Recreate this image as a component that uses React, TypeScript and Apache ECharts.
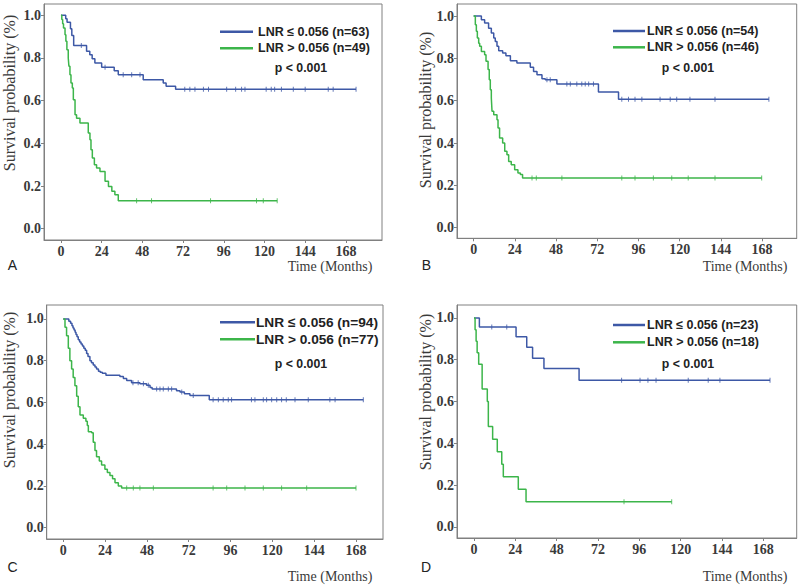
import React, { useEffect, useRef } from "react";
import * as echarts from "echarts";

const BLUE = "#3d58a6";
const GREEN = "#3cb54a";

const xTickValues = [0, 24, 48, 72, 96, 120, 144, 168];
const yTickValues = [0, 0.2, 0.4, 0.6, 0.8, 1.0];

const lowLabel = "LNR \u2264 0.056";
const highLabel = "LNR > 0.056";
const pText = "p < 0.001";
const timeTitle = "Time (Months)";
const survTitle = "Survival probability (%)";

// ---- Panel A ----
const aLowN = 63;
const aLowTimes = [0, 2.8, 3.6, 5.6, 6.4, 7.5, 15.1, 17, 18.4, 20, 24, 31.4, 33.8, 48.5, 60.3, 62, 67.6];
const aLowSurv = [1, 0.984, 0.968, 0.937, 0.905, 0.859, 0.831, 0.815, 0.797, 0.776, 0.756, 0.74, 0.722, 0.698, 0.683, 0.668, 0.653];
const aLowCensor = [12, 26, 36.7, 41.7, 46.6, 73, 76, 79, 84, 87, 97.7, 103, 106.5, 108.5, 121, 124, 126, 130, 137, 144, 157.6, 160.5];
const aLowEnd = 174;
const aHighN = 49;
const aHighTimes = [0, 0.5, 1, 1.5, 2.4, 2.9, 3.5, 4.3, 4.7, 5.3, 5.9, 6.7, 7.3, 8.3, 9.2, 11.2, 16.1, 17.1, 17.7, 18.5, 19.7, 21, 23, 26, 28, 30, 31.8, 33.8];
const aHighSurv = [1, 0.98, 0.96, 0.94, 0.909, 0.878, 0.839, 0.8, 0.761, 0.722, 0.683, 0.659, 0.604, 0.534, 0.518, 0.495, 0.448, 0.417, 0.37, 0.331, 0.3, 0.284, 0.268, 0.222, 0.198, 0.175, 0.159, 0.131];
const aHighCensor = [44.6, 53.4, 88.2, 115.3, 119.3];
const aHighEnd = 127.5;

// ---- Panel B ----
const bLowN = 54;
const bLowTimes = [0, 4.5, 6.4, 8.7, 10.3, 11.7, 12.6, 13.6, 14.6, 16.9, 18.8, 21.4, 25.2, 33, 34.9, 36.9, 39.8, 41.7, 48.5, 72.7, 84.4];
const bLowSurv = [1, 0.983, 0.967, 0.943, 0.92, 0.896, 0.88, 0.857, 0.836, 0.825, 0.813, 0.789, 0.778, 0.758, 0.738, 0.723, 0.704, 0.699, 0.679, 0.641, 0.607];
const bLowCensor = [42.7, 44.6, 54.3, 56.3, 60.1, 63, 65, 67, 69.8, 86.3, 90.2, 94, 98, 108.6, 114.5, 118.3, 126, 140.6];
const bLowEnd = 172;
const bHighN = 46;
const bHighTimes = [0, 0.98, 1.57, 2.15, 2.93, 3.5, 4.5, 6.4, 7.2, 8.4, 9.1, 9.7, 10.3, 10.7, 11.7, 13.6, 14.2, 15.1, 16.9, 18.1, 19.4, 20.4, 21.9, 23.9, 25.8, 27.2, 28.5];
const bHighSurv = [1, 0.959, 0.928, 0.896, 0.872, 0.857, 0.833, 0.817, 0.786, 0.747, 0.699, 0.652, 0.613, 0.55, 0.534, 0.51, 0.471, 0.424, 0.4, 0.361, 0.345, 0.313, 0.298, 0.274, 0.259, 0.251, 0.235];
const bHighCensor = [34, 36.5, 51.4, 86.3, 94, 104.7, 115.4, 125, 140.6];
const bHighEnd = 167.8;

// ---- Panel C ----
const cLowN = 94;
const cLowTimes = [0, 3.2, 4.2, 5.0, 5.6, 6.2, 6.8, 7.3, 7.9, 8.6, 9.4, 10.2, 11, 11.8, 12.6, 13.4, 14.2, 15.3, 16.2, 17.2, 18.2, 19.1, 20.2, 21.2, 22.4, 24.5, 32.5, 34.5, 36.4, 39.2, 44, 47.8, 49.8, 51, 65, 67, 69.5, 72.7, 83.8];
const cLowSurv = [1, 0.989, 0.979, 0.968, 0.957, 0.947, 0.936, 0.926, 0.915, 0.9, 0.89, 0.88, 0.87, 0.86, 0.85, 0.835, 0.82, 0.8, 0.79, 0.78, 0.77, 0.76, 0.75, 0.745, 0.74, 0.73, 0.725, 0.715, 0.705, 0.695, 0.69, 0.682, 0.672, 0.665, 0.656, 0.65, 0.642, 0.633, 0.613];
const cLowCensor = [40, 43, 46, 48.8, 53.6, 55.5, 57.4, 60.3, 62.2, 68, 74.6, 86, 89, 91.8, 94.7, 96.6, 108, 110, 114.8, 116.7, 119.6, 122.5, 125.3, 128, 133, 140.6, 153, 156];
const cLowEnd = 172.2;
const cHighN = 77;
const cHighTimes = [0, 1, 1.9, 2.9, 3.8, 4.8, 5.7, 6.7, 7.7, 8.6, 9.6, 11.5, 13, 13.8, 14.4, 16.3, 17.2, 18.2, 19.1, 20.7, 22, 23.9, 25.3, 26.8, 28.3, 29.7, 31.6, 33.5];
const cHighSurv = [1, 0.96, 0.92, 0.86, 0.8, 0.76, 0.72, 0.68, 0.63, 0.58, 0.54, 0.525, 0.51, 0.49, 0.46, 0.455, 0.41, 0.37, 0.34, 0.32, 0.3, 0.28, 0.265, 0.25, 0.235, 0.215, 0.2, 0.19];
const cHighCensor = [36.4, 40.2, 44, 51.7, 86, 93.8, 104.3, 114.8, 125.3, 139.7];
const cHighEnd = 168;

// ---- Panel D ----
const dLowN = 23;
const dLowTimes = [0, 3.1, 24.4, 30.6, 34, 40.6, 61];
const dLowSurv = [1, 0.957, 0.91, 0.86, 0.807, 0.758, 0.702];
const dLowCensor = [10.3, 19, 85.7, 96.4, 101, 105.7, 124.4, 136, 142.8];
const dLowEnd = 171.9;
const dHighN = 18;
const dHighTimes = [0, 0.6, 1.2, 1.8, 2.7, 4.7, 7.7, 8.3, 10.8, 13.5, 16.1, 17, 25.7, 30.2];
const dHighSurv = [1, 0.944, 0.889, 0.833, 0.778, 0.66, 0.6, 0.48, 0.42, 0.36, 0.3, 0.24, 0.18, 0.12];
const dHighCensor = [87.1];
const dHighEnd = 114.8;

type Curve = { n: number; times: number[]; surv: number[]; censor: number[]; end: number };

const panelData: { letter: string; low: Curve; high: Curve }[] = [
  {
    letter: "A",
    low: { n: aLowN, times: aLowTimes, surv: aLowSurv, censor: aLowCensor, end: aLowEnd },
    high: { n: aHighN, times: aHighTimes, surv: aHighSurv, censor: aHighCensor, end: aHighEnd },
  },
  {
    letter: "B",
    low: { n: bLowN, times: bLowTimes, surv: bLowSurv, censor: bLowCensor, end: bLowEnd },
    high: { n: bHighN, times: bHighTimes, surv: bHighSurv, censor: bHighCensor, end: bHighEnd },
  },
  {
    letter: "C",
    low: { n: cLowN, times: cLowTimes, surv: cLowSurv, censor: cLowCensor, end: cLowEnd },
    high: { n: cHighN, times: cHighTimes, surv: cHighSurv, censor: cHighCensor, end: cHighEnd },
  },
  {
    letter: "D",
    low: { n: dLowN, times: dLowTimes, surv: dLowSurv, censor: dLowCensor, end: dLowEnd },
    high: { n: dHighN, times: dHighTimes, surv: dHighSurv, censor: dHighCensor, end: dHighEnd },
  },
];

// layout (pixels) for each panel
const layouts = [
  {
    grid: { left: 44, top: 4, width: 338, height: 236 },
    x: [-10, 189.3], y: [-0.053, 1.053],
    leg: { x1: 220, x2: 253, tx: 258, y1: 31.7, y2: 48.3, px: 301, py: 68.3, fs: 12.5 },
    letterPos: [12.5, 265], timePos: [330, 266], yNamePos: [9.5, 93],
  },
  {
    grid: { left: 457, top: 4, width: 339.7, height: 234.3 },
    x: [-9.7, 188.2], y: [-0.05, 1.057],
    leg: { x1: 613, x2: 645, tx: 647, y1: 31, y2: 47.3, px: 688, py: 68.3, fs: 12.5 },
    letterPos: [426.5, 265], timePos: [745, 266], yNamePos: [425, 110],
  },
  {
    grid: { left: 46.7, top: 305, width: 336.3, height: 234 },
    x: [-9.5, 183.5], y: [-0.054, 1.067],
    leg: { x1: 220, x2: 255, tx: 256, y1: 322.3, y2: 339.3, px: 301, py: 364, fs: 13.7 },
    letterPos: [12.5, 567], timePos: [330, 576], yNamePos: [9, 390],
  },
  {
    grid: { left: 457, top: 305, width: 339.7, height: 233 },
    x: [-9.9, 187.4], y: [-0.053, 1.062],
    leg: { x1: 613, x2: 645, tx: 647, y1: 325, y2: 342.3, px: 688, py: 364, fs: 12.5 },
    letterPos: [426, 567], timePos: [745, 576], yNamePos: [425, 392],
  },
];

function survivalAt(c: Curve, t: number): number {
  let s = c.surv[0];
  for (let i = 0; i < c.times.length; i++) {
    if (c.times[i] <= t) s = c.surv[i];
  }
  return s;
}

function lineData(c: Curve): number[][] {
  const d = c.times.map((t, i) => [t, c.surv[i]]);
  d.push([c.end, c.surv[c.surv.length - 1]]);
  return d;
}

function censorData(c: Curve): number[][] {
  return [...c.censor, c.end].map((t) => [t, survivalAt(c, t)]);
}

const AXIS_COLOR = "#808080";
const LABEL_COLOR = "#3a3a3a";

function buildOption() {
  const grids: any[] = [];
  const xAxes: any[] = [];
  const yAxes: any[] = [];
  const series: any[] = [];
  const graphics: any[] = [];

  panelData.forEach((p, i) => {
    const L = layouts[i];
    grids.push({ ...L.grid, show: true, borderColor: AXIS_COLOR, borderWidth: 1, containLabel: false });
    xAxes.push({
      type: "value", gridIndex: i, min: L.x[0], max: L.x[1],
      axisLine: { show: true, onZero: false, lineStyle: { color: AXIS_COLOR, width: 1 } },
      axisTick: { show: true, length: 3, customValues: xTickValues, lineStyle: { color: AXIS_COLOR } },
      axisLabel: {
        customValues: xTickValues, margin: 4, color: LABEL_COLOR,
        fontFamily: "Liberation Serif", fontSize: 14, fontWeight: "bold",
      },
      splitLine: { show: false },
    });
    yAxes.push({
      type: "value", gridIndex: i, min: L.y[0], max: L.y[1],
      axisLine: { show: true, onZero: false, lineStyle: { color: AXIS_COLOR, width: 1 } },
      axisTick: { show: true, length: 3, customValues: yTickValues, lineStyle: { color: AXIS_COLOR } },
      axisLabel: {
        customValues: yTickValues, margin: 3, color: LABEL_COLOR,
        fontFamily: "Liberation Serif", fontSize: 14, fontWeight: "bold",
        formatter: (v: number) => v.toFixed(1),
      },
      splitLine: { show: false },
    });

    const curves: [Curve, string, string][] = [
      [p.low, BLUE, `${lowLabel} (n=${p.low.n})`],
      [p.high, GREEN, `${highLabel} (n=${p.high.n})`],
    ];
    curves.forEach(([c, color, name]) => {
      series.push({
        type: "line", name, xAxisIndex: i, yAxisIndex: i, step: "end",
        data: lineData(c), showSymbol: false, symbol: "none",
        lineStyle: { color, width: 1.5 }, silent: true,
      });
      series.push({
        type: "scatter", xAxisIndex: i, yAxisIndex: i, data: censorData(c),
        symbol: "rect", symbolSize: [1, 5], itemStyle: { color }, silent: true,
      });
    });

    const lg = L.leg;
    const legFont = `bold ${lg.fs}px "Liberation Sans", Arial, sans-serif`;
    graphics.push(
      { type: "line", shape: { x1: lg.x1, y1: lg.y1, x2: lg.x2, y2: lg.y1 }, style: { stroke: BLUE, lineWidth: 2.5 } },
      { type: "line", shape: { x1: lg.x1, y1: lg.y2, x2: lg.x2, y2: lg.y2 }, style: { stroke: GREEN, lineWidth: 2.5 } },
      { type: "text", x: lg.tx, y: lg.y1, style: { text: curves[0][2], font: legFont, fill: "#222", align: "left", verticalAlign: "middle" } },
      { type: "text", x: lg.tx, y: lg.y2, style: { text: curves[1][2], font: legFont, fill: "#222", align: "left", verticalAlign: "middle" } },
      { type: "text", x: lg.px, y: lg.py, style: { text: pText, font: `bold 12.3px "Liberation Sans", Arial, sans-serif`, fill: "#222", align: "center", verticalAlign: "middle" } },
      { type: "text", x: L.letterPos[0], y: L.letterPos[1], style: { text: p.letter, font: `14px "Liberation Sans", Arial, sans-serif`, fill: "#222", align: "center", verticalAlign: "middle" } },
      { type: "text", x: L.timePos[0], y: L.timePos[1], style: { text: timeTitle, font: `14px "Liberation Serif", serif`, fill: LABEL_COLOR, align: "center", verticalAlign: "middle" } },
      { type: "text", x: L.yNamePos[0], y: L.yNamePos[1], rotation: Math.PI / 2, style: { text: survTitle, font: `16px "Liberation Serif", serif`, fill: LABEL_COLOR, align: "center", verticalAlign: "middle" } },
    );
  });

  return {
    animation: false,
    backgroundColor: "#ffffff",
    grid: grids,
    xAxis: xAxes,
    yAxis: yAxes,
    series,
    graphic: graphics,
  };
}

export default function App() {
  const ref = useRef<HTMLDivElement>(null);
  useEffect(() => {
    if (!ref.current) return;
    const chart = echarts.init(ref.current, undefined, { renderer: "svg" });
    chart.setOption(buildOption() as any);
    return () => chart.dispose();
  }, []);
  return (
    <div
      ref={ref}
      style={{ position: "fixed", left: 0, top: 0, width: 800, height: 587, background: "#fff" }}
    />
  );
}
